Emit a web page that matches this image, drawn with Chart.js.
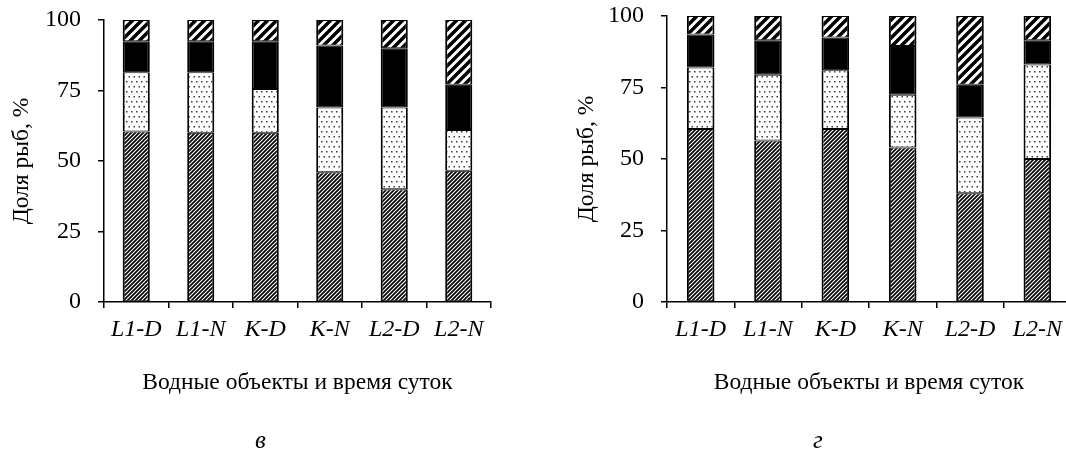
<!DOCTYPE html>
<html><head><meta charset="utf-8">
<script src="https://cdn.jsdelivr.net/npm/chart.js@4.4.1/dist/chart.umd.min.js"></script>
<style>
html,body{margin:0;padding:0;background:#fff;overflow:hidden;}
#wrap{position:relative;width:1066px;height:459px;overflow:hidden;background:#fff;}
#c1{position:absolute;left:0;top:0;}
#c2{position:absolute;left:533px;top:0;}
</style></head><body>
<div id="wrap">
<canvas id="c1" width="533" height="459"></canvas>
<canvas id="c2" width="560" height="459"></canvas>
</div>
<script>
// ---- data ----
const categories = ['L1-D', 'L1-N', 'K-D', 'K-N', 'L2-D', 'L2-N'];
const yTickValues = [0, 25, 50, 75, 100];
// panel "в"
const v_series1 = [60.5, 60, 60, 46, 40, 46.5];
const v_series2 = [21, 21.5, 15.5, 23, 29, 14.5];
const v_series3 = [11, 11, 17, 22, 21, 16];
const v_series4 = [7.5, 7.5, 7.5, 9, 10, 23];
// panel "г"
const g_series1 = [60.5, 56.5, 60.5, 54, 38, 50];
const g_series2 = [21.5, 23, 20.5, 18.5, 26.5, 33];
const g_series3 = [11.5, 12, 11.5, 17, 11.5, 8.5];
const g_series4 = [6.5, 8.5, 7.5, 10.5, 24, 8.5];
const yTitle = 'Доля рыб, %';
const xTitle = 'Водные объекты и время суток';
const panelLabels = ['в', 'г'];

// ---- patterns ----
function hatch(size, lw) {
  const c = document.createElement('canvas');
  c.width = size; c.height = size;
  const x = c.getContext('2d');
  x.fillStyle = '#fff'; x.fillRect(0, 0, size, size);
  x.strokeStyle = '#000'; x.lineWidth = lw; x.lineCap = 'square';
  x.beginPath();
  x.moveTo(0, size); x.lineTo(size, 0);
  x.moveTo(-size, size); x.lineTo(size, -size);
  x.moveTo(0, 2 * size); x.lineTo(2 * size, 0);
  x.stroke();
  return x.createPattern(c, 'repeat');
}
function dots() {
  const c = document.createElement('canvas');
  c.width = 5; c.height = 10;
  const x = c.getContext('2d');
  x.fillStyle = '#fff'; x.fillRect(0, 0, 5, 10);
  x.fillStyle = '#3a3a3a';
  x.fillRect(1, 1, 1.5, 1.5);
  x.fillRect(3.5, 6, 1.5, 1.5);
  return x.createPattern(c, 'repeat');
}
const pDense = hatch(4, 1.7);
const pDots = dots();
const pWide = hatch(9, 3.5);

const FONT = '"Liberation Serif", "Times New Roman", serif';
Chart.defaults.font.family = FONT;
Chart.defaults.color = '#000';

function makeChart(id, s, cfg) {
  const fills = [pDense, pDots, '#000', pWide];
  const datasets = s.map((d, i) => ({
    data: d,
    backgroundColor: fills[i],
    borderColor: '#000',
    borderWidth: {top: 1, bottom: 1, left: 2, right: 2},
    borderSkipped: false,
    barPercentage: cfg.barPct,
    categoryPercentage: 1,
    stack: 'a'
  }));
  return new Chart(document.getElementById(id), {
    type: 'bar',
    data: {labels: categories, datasets},
    options: {
      responsive: false,
      animation: false,
      layout: {padding: cfg.padding},
      plugins: {
        legend: {display: false},
        tooltip: {enabled: false},
        title: {
          display: true, position: 'bottom', text: cfg.label,
          font: {size: 25, style: 'italic', weight: 'normal', family: FONT},
          color: '#000', padding: {top: 0, bottom: 3}
        }
      },
      scales: {
        x: {
          stacked: true,
          grid: {display: true, drawOnChartArea: false, offset: true, tickLength: 6, color: '#000', lineWidth: 1.5},
          border: {display: true, color: '#000', width: 1.5},
          ticks: {font: {size: 24, style: 'italic', family: FONT}, color: '#000', padding: 7, maxRotation: 0},
          title: {display: true, text: xTitle, font: {size: 23.5, family: FONT}, color: '#000', padding: {top: 0, bottom: 29.4}},
          afterFit: (sc) => { sc.height = cfg.xHeight; }
        },
        y: {
          stacked: true, min: 0, max: 100,
          afterBuildTicks: (sc) => { sc.ticks = yTickValues.map(v => ({value: v})); },
          grid: {display: true, drawOnChartArea: false, tickLength: 6, color: '#000', lineWidth: 1.5},
          border: {display: true, color: '#000', width: 1.5},
          ticks: {font: {size: 24, family: FONT}, color: '#000', padding: 17},
          title: {display: true, text: yTitle, font: {size: 23.5, family: FONT}, color: '#000', padding: {top: cfg.yTitlePad, bottom: 0}},
          afterFit: (sc) => { sc.width = cfg.yWidth; sc.paddingTop = 0; sc.paddingBottom = 0; }
        }
      }
    }
  });
}

makeChart('c1', [v_series1, v_series2, v_series3, v_series4],
  {padding: {left: 30, top: 20, right: 42, bottom: 0}, yWidth: 74, yTitlePad: -22, xHeight: 124, barPct: 0.42, label: panelLabels[0]});
makeChart('c2', [g_series1, g_series2, g_series3, g_series4],
  {padding: {left: 32, top: 16, right: 22, bottom: 0}, yWidth: 102, yTitlePad: 8, xHeight: 124, barPct: 0.41, label: panelLabels[1]});
</script>
</body></html>
